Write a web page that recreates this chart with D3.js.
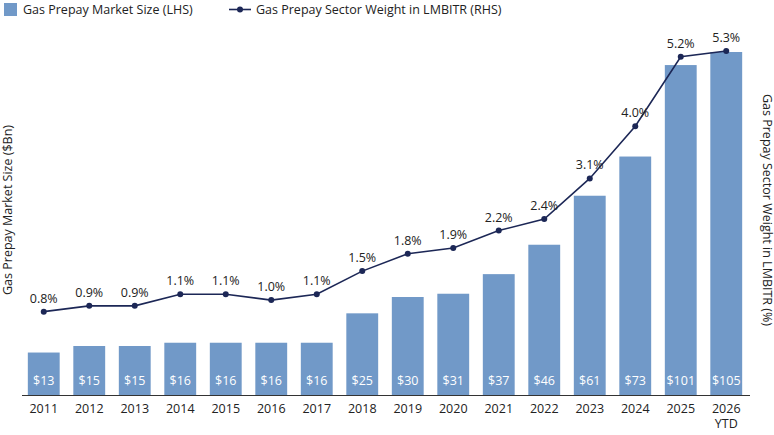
<!DOCTYPE html><html><head><script src="https://cdn.jsdelivr.net/npm/d3@7"></script>
<style>body{margin:0}text{font-family:"Open Sans",sans-serif}</style></head><body><svg id="c" width="774" height="435"></svg>
<script>
const years=["2011","2012","2013","2014","2015","2016","2017","2018","2019","2020","2021","2022","2023","2024","2025","2026"];
const sizes=[13,15,15,16,16,16,16,25,30,31,37,46,61,73,101,105];
const weights=[0.8,0.9,0.9,1.1,1.1,1.0,1.1,1.5,1.8,1.9,2.2,2.4,3.1,4.0,5.2,5.3];
const svg=d3.select("#c");
const barC="#7199c8",lineC="#1c2756";
const x=d3.scaleBand().domain(years).range([21,749]).paddingInner(0.3).paddingOuter(0.15);
const y=d3.scaleLinear().domain([0,105]).range([395,52]);
const y2=d3.scaleLinear().domain([0,5.3]).range([358,51]);
svg.selectAll("rect.b").data(sizes).join("rect").attr("x",(d,i)=>x(years[i])).attr("width",x.bandwidth())
 .attr("y",d=>y(d)).attr("height",d=>395-y(d)).attr("fill",barC);
svg.selectAll("text.bl").data(sizes).join("text").attr("x",(d,i)=>x(years[i])+x.bandwidth()/2).attr("y",385)
 .attr("text-anchor","middle").attr("fill","#fff").attr("font-size",12.5).text(d=>"$"+d);
const cx=(i)=>x(years[i])+x.bandwidth()/2;
svg.append("path").datum(weights).attr("fill","none").attr("stroke",lineC).attr("stroke-width",1.6)
 .attr("d",d3.line().x((d,i)=>cx(i)).y(d=>y2(d)));
svg.selectAll("circle").data(weights).join("circle").attr("cx",(d,i)=>cx(i)).attr("cy",d=>y2(d)).attr("r",3).attr("fill",lineC);
svg.selectAll("text.pl").data(weights).join("text").attr("x",(d,i)=>cx(i)).attr("y",d=>y2(d)-9)
 .attr("text-anchor","middle").attr("fill","#222").attr("font-size",12.5).text(d=>d.toFixed(1)+"%");
svg.append("line").attr("x1",22).attr("x2",750).attr("y1",395.5).attr("y2",395.5).attr("stroke","#333");
const xa=svg.append("g");
years.forEach((yr,i)=>{const t=xa.append("text").attr("x",cx(i)).attr("y",413).attr("text-anchor","middle").attr("font-size",12.5).attr("fill","#222");
 t.append("tspan").attr("x",cx(i)).text(yr); if(i===years.length-1) t.append("tspan").attr("x",cx(i)).attr("dy",15).text("YTD");});
svg.append("text").attr("transform","translate(12,210) rotate(-90)").attr("text-anchor","middle").attr("font-size",12.5).attr("fill","#222").text("Gas Prepay Market Size ($Bn)");
svg.append("text").attr("transform","translate(763,210) rotate(90)").attr("text-anchor","middle").attr("font-size",12.5).attr("fill","#222").text("Gas Prepay Sector Weight in LMBITR (%)");
svg.append("rect").attr("x",4).attr("y",3).attr("width",13).attr("height",13).attr("fill",barC);
svg.append("text").attr("x",23).attr("y",14).attr("font-size",12.5).attr("fill","#222").text("Gas Prepay Market Size (LHS)");
svg.append("line").attr("x1",229).attr("x2",251).attr("y1",9.5).attr("y2",9.5).attr("stroke",lineC).attr("stroke-width",1.6);
svg.append("circle").attr("cx",240).attr("cy",9.5).attr("r",3).attr("fill",lineC);
svg.append("text").attr("x",256).attr("y",14).attr("font-size",12.5).attr("fill","#222").text("Gas Prepay Sector Weight in LMBITR (RHS)");
</script></body></html>
